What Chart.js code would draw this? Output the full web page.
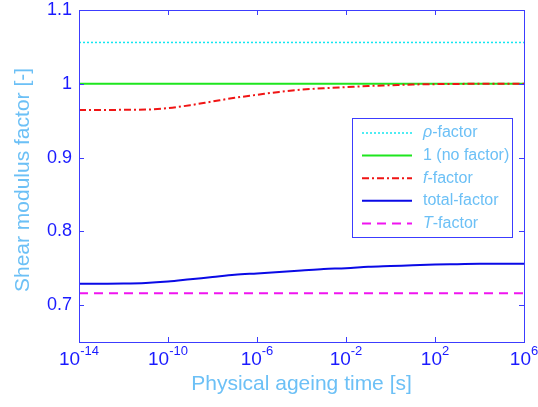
<!DOCTYPE html>
<html>
<head>
<meta charset="utf-8">
<script src="https://cdn.jsdelivr.net/npm/chart.js@4.4.1/dist/chart.umd.min.js"></script>
<style>
    html, body { margin: 0; padding: 0; background: #fff; }
    #wrap { width: 538px; height: 407px; }
</style>
</head>
<body>
<div id="wrap"><canvas id="shear-chart" width="538" height="407"></canvas></div>
<script>
// physical ageing time [s], one point per decade
const ageingTime = [1e-14, 1e-13, 1e-12, 1e-11, 1e-10, 1e-9, 1e-8, 1e-7, 1e-6, 1e-5, 1e-4,
    1e-3, 1e-2, 1e-1, 1e0, 1e1, 1e2, 1e3, 1e4, 1e5, 1e6];
const fFactor = [0.9645, 0.9645, 0.9647, 0.965, 0.967, 0.971, 0.976, 0.981, 0.985, 0.989, 0.992,
    0.994, 0.9955, 0.997, 0.998, 0.999, 0.9995, 0.9998, 1.0, 1.0, 1.0];
const totalFactor = [0.729, 0.729, 0.7292, 0.730, 0.732, 0.735, 0.738, 0.741, 0.743, 0.745, 0.747,
    0.749, 0.750, 0.752, 0.753, 0.754, 0.755, 0.7555, 0.756, 0.756, 0.756];

// constant factors
const flatTime = [1e-14, 1e6];
const rhoFactor = [1.056, 1.056];
const noFactor = [1, 1];
const tFactor = [0.716, 0.716];

const xTicks = [1e-14, 1e-10, 1e-6, 1e-2, 1e2, 1e6];
const yTicks = [0.7, 0.8, 0.9, 1, 1.1];

const legendLabels = [
    { sym: 'ρ', rest: '-factor' },
    { sym: '', rest: '1 (no factor)' },
    { sym: 'f', rest: '-factor' },
    { sym: '', rest: 'total-factor' },
    { sym: 'T', rest: '-factor' }
];

const axisColor = '#3c3cff';
const tickColor = '#1a1aff';
const titleColor = '#6cc0f6';
const FONT = '"Liberation Sans", Arial, sans-serif';

function toPoints(xs, ys) {
    return xs.map((x, i) => ({ x: x, y: ys[i] }));
}

const matlabAxes = {
    id: 'matlabAxes',
    afterDraw(chart) {
        const ctx = chart.ctx;
        const area = chart.chartArea;
        const xs = chart.scales.x;
        const ys = chart.scales.y;
        ctx.save();

        // box and inward tick marks
        ctx.strokeStyle = axisColor;
        ctx.lineWidth = 1;
        ctx.strokeRect(area.left + 0.5, area.top + 0.5, area.right - area.left, area.bottom - area.top);
        ctx.beginPath();
        xTicks.forEach(v => {
            const px = Math.round(xs.getPixelForValue(v)) + 0.5;
            ctx.moveTo(px, area.bottom); ctx.lineTo(px, area.bottom - 5);
            ctx.moveTo(px, area.top); ctx.lineTo(px, area.top + 5);
        });
        yTicks.forEach(v => {
            const py = Math.round(ys.getPixelForValue(v)) + 0.5;
            ctx.moveTo(area.left, py); ctx.lineTo(area.left + 5, py);
            ctx.moveTo(area.right, py); ctx.lineTo(area.right - 5, py);
        });
        ctx.stroke();

        // y tick labels
        ctx.fillStyle = tickColor;
        ctx.font = '18px ' + FONT;
        ctx.textAlign = 'right';
        ctx.textBaseline = 'middle';
        yTicks.forEach(v => {
            ctx.fillText(String(v), area.left - 7, ys.getPixelForValue(v));
        });

        // x tick labels as 10 with a raised exponent
        ctx.textBaseline = 'alphabetic';
        ctx.textAlign = 'left';
        xTicks.forEach(v => {
            const px = xs.getPixelForValue(v);
            const exp = String(Math.round(Math.log10(v)));
            ctx.font = '19px ' + FONT;
            const wBase = ctx.measureText('10').width;
            ctx.font = '13px ' + FONT;
            const wExp = ctx.measureText(exp).width;
            const x0 = px - (wBase + wExp) / 2;
            ctx.font = '19px ' + FONT;
            ctx.fillText('10', x0, 365);
            ctx.font = '13px ' + FONT;
            ctx.fillText(exp, x0 + wBase, 355);
        });

        // axis titles
        ctx.fillStyle = titleColor;
        ctx.font = '21px ' + FONT;
        ctx.textAlign = 'center';
        ctx.textBaseline = 'middle';
        ctx.fillText('Physical ageing time [s]', (area.left + area.right) / 2, 384);
        ctx.save();
        ctx.translate(23, 180);
        ctx.rotate(-Math.PI / 2);
        ctx.fillText('Shear modulus factor [-]', 0, 0);
        ctx.restore();

        // legend box
        const lx = 352, ly = 118, lw = 160, lh = 119;
        ctx.fillStyle = '#fff';
        ctx.fillRect(lx, ly, lw, lh);
        ctx.strokeStyle = axisColor;
        ctx.strokeRect(lx + 0.5, ly + 0.5, lw, lh);
        ctx.textAlign = 'left';
        ctx.textBaseline = 'middle';
        chart.data.datasets.forEach((ds, i) => {
            const y = ly + 15 + i * 22.6;
            ctx.save();
            ctx.strokeStyle = ds.borderColor;
            ctx.lineWidth = ds.borderWidth;
            ctx.setLineDash(ds.borderDash || []);
            ctx.beginPath();
            ctx.moveTo(362, y);
            ctx.lineTo(412, y);
            ctx.stroke();
            ctx.restore();
            const lab = legendLabels[i];
            let tx = 423;
            ctx.fillStyle = titleColor;
            if (lab.sym) {
                ctx.font = 'italic 16px ' + FONT;
                ctx.fillText(lab.sym, tx, y);
                tx += ctx.measureText(lab.sym).width;
            }
            ctx.font = '16px ' + FONT;
            ctx.fillText(lab.rest, tx, y);
        });
        ctx.restore();
    }
};

new Chart(document.getElementById('shear-chart').getContext('2d'), {
    type: 'line',
    data: {
        datasets: [{
            label: 'ρ-factor',
            data: toPoints(flatTime, rhoFactor),
            borderColor: '#14e6f0',
            borderWidth: 1.5,
            borderDash: [2, 2],
            order: 5
        }, {
            label: '1 (no factor)',
            data: toPoints(flatTime, noFactor),
            borderColor: '#1ee61e',
            borderWidth: 2,
            order: 4
        }, {
            label: 'f-factor',
            data: toPoints(ageingTime, fFactor),
            borderColor: '#f01414',
            borderWidth: 2,
            borderDash: [7, 3, 2, 3],
            cubicInterpolationMode: 'monotone',
            order: 3
        }, {
            label: 'total-factor',
            data: toPoints(ageingTime, totalFactor),
            borderColor: '#0a0ae6',
            borderWidth: 2,
            cubicInterpolationMode: 'monotone',
            order: 2
        }, {
            label: 'T-factor',
            data: toPoints(flatTime, tFactor),
            borderColor: '#f014f0',
            borderWidth: 2,
            borderDash: [9, 6],
            order: 1
        }]
    },
    options: {
        responsive: false,
        animation: false,
        layout: { padding: { top: 10, right: 14, left: 0, bottom: 0 } },
        elements: { point: { radius: 0 } },
        plugins: {
            legend: { display: false },
            tooltip: { enabled: false }
        },
        scales: {
            x: {
                type: 'logarithmic',
                min: 1e-14,
                max: 1e6,
                afterBuildTicks: scale => { scale.ticks = xTicks.map(v => ({ value: v })); },
                afterFit: scale => { scale.height = 65; },
                grid: { display: false, drawTicks: false },
                border: { display: false },
                ticks: { display: false }
            },
            y: {
                min: 0.65,
                max: 1.1,
                afterBuildTicks: scale => { scale.ticks = yTicks.map(v => ({ value: v })); },
                afterFit: scale => { scale.width = 79; },
                grid: { display: false, drawTicks: false },
                border: { display: false },
                ticks: { display: false }
            }
        }
    },
    plugins: [matlabAxes]
});
</script>
</body>
</html>
